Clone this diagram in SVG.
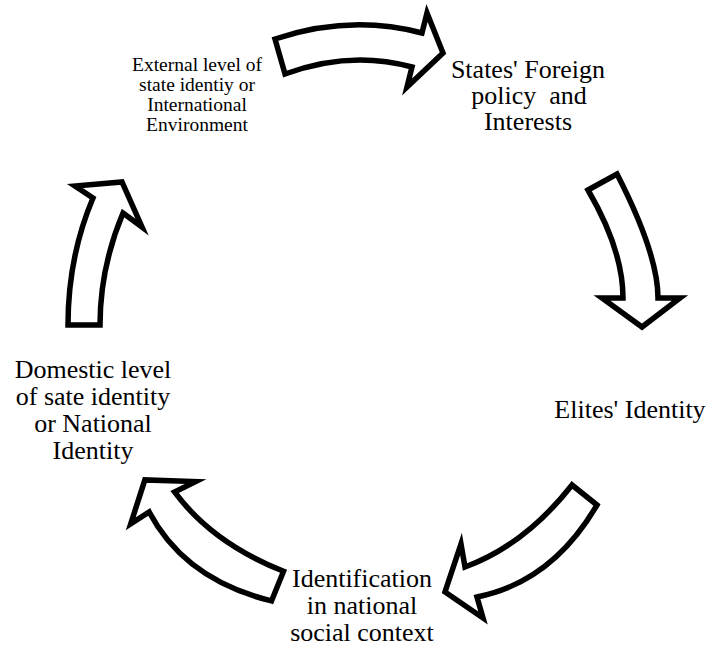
<svg xmlns="http://www.w3.org/2000/svg" width="709" height="646" viewBox="0 0 709 646">
<style>
.arrow{fill:#fff;stroke:#000;stroke-width:5.5;stroke-linejoin:miter;stroke-miterlimit:10}
text{font-family:'Liberation Serif','Times New Roman',Times,serif;fill:#000;text-anchor:middle}
.big{font-size:26px}
.small{font-size:19.5px}
</style>
<rect width="709" height="646" fill="#fff"/>
<g id="connectors">
<path id="arrow1" class="arrow" d="M275,39 Q350,14 422,33 L427,13 L443,53 L407,87 L412,67 Q350,50 285,74 Z"/>
<path id="arrow2" class="arrow" d="M588,190 L617,174 Q658,254 658,298 L680,298 L642,327 L602,298 L623,298 Q623,250 588,190 Z"/>
<path id="arrow3" class="arrow" d="M572,485 L597,505 Q552,582 477,597 L483,618 L445,592 L461,544 L465,567 Q525,545 572,485 Z"/>
<path id="arrow4" class="arrow" transform="rotate(73.5 370 335)" d="M572,485 L597,505 Q552,582 477,597 L483,618 L445,592 L461,544 L465,567 Q525,545 572,485 Z"/>
<path id="arrow5" class="arrow" d="M68,325 L100,325 Q100,268 123,213 L142,227 L122,182 L75,186 L93,198 Q68,257 68,325 Z"/>
</g>
<g id="node-external" font-family="Liberation Serif, serif">
<text class="small" x="197" y="71">External level of</text>
<text class="small" x="197" y="91">state identiy or</text>
<text class="small" x="197" y="111">International</text>
<text class="small" x="197" y="131">Environment</text>
</g>
<g id="node-foreign" font-family="Liberation Serif, serif">
<text class="big" x="528" y="78">States' Foreign</text>
<text class="big" x="529" y="104" xml:space="preserve">policy  and</text>
<text class="big" x="528" y="130">Interests</text>
</g>
<g id="node-elites" font-family="Liberation Serif, serif">
<text class="big" x="630" y="418">Elites' Identity</text>
</g>
<g id="node-identification" font-family="Liberation Serif, serif">
<text class="big" x="362" y="587">Identification</text>
<text class="big" x="362" y="614">in national</text>
<text class="big" x="362" y="641">social context</text>
</g>
<g id="node-domestic" font-family="Liberation Serif, serif">
<text class="big" x="93" y="378">Domestic level</text>
<text class="big" x="93" y="405">of sate identity</text>
<text class="big" x="93" y="432">or National</text>
<text class="big" x="93" y="459">Identity</text>
</g>
</svg>
